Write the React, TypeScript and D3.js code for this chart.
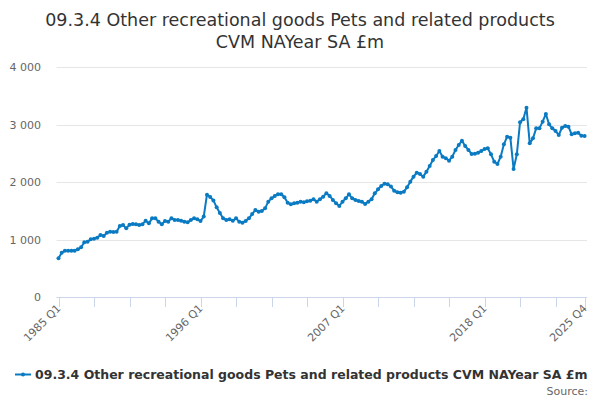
import * as d3 from 'd3';
import { useEffect, useRef } from 'react';

const titleLines = [
  '09.3.4 Other recreational goods Pets and related products',
  'CVM NAYear SA £m',
];
const seriesName = '09.3.4 Other recreational goods Pets and related products CVM NAYear SA £m';

const startYear = 1985;
const endYear = 2025;

// quarterly values, 1985 Q1 .. 2025 Q4
const values = [
  673, 771, 806, 806, 806, 806, 829, 864, 951, 962, 1003, 1014, 1032, 1078, 1061, 1119,
  1136, 1130, 1136, 1235, 1252, 1194, 1258, 1270, 1264, 1252, 1264, 1327, 1281, 1368, 1368, 1310,
  1264, 1322, 1310, 1368, 1339, 1339, 1327, 1310, 1299, 1339, 1368, 1351, 1320, 1400, 1780, 1740,
  1680, 1560, 1460, 1368, 1339, 1351, 1327, 1368, 1310, 1293, 1322, 1368, 1443, 1513, 1484, 1496,
  1542, 1658, 1716, 1757, 1786, 1786, 1734, 1640, 1612, 1629, 1640, 1658, 1650, 1665, 1675, 1699,
  1658, 1699, 1745, 1803, 1757, 1687, 1629, 1583, 1658, 1716, 1786, 1716, 1687, 1670, 1658, 1617,
  1658, 1699, 1803, 1873, 1930, 1970, 1960, 1920, 1850, 1820, 1814, 1832, 1907, 2006, 2093, 2162,
  2139, 2093, 2180, 2278, 2383, 2452, 2539, 2441, 2412, 2371, 2441, 2557, 2643, 2719, 2626, 2557,
  2487, 2490, 2510, 2539, 2574, 2585, 2481, 2354, 2313, 2441, 2655, 2788, 2771, 2226, 2481, 3038,
  3090, 3293, 2672, 2759, 2933, 2933, 3049, 3183, 3003, 2933, 2887, 2817, 2945, 2974, 2962, 2829,
  2846, 2858, 2805, 2800,
];

const quarters: string[] = [];
for (let y = startYear; y <= endYear; y++) {
  for (let q = 1; q <= 4; q++) quarters.push(`${y} Q${q}`);
}

const yTicks = [0, 1000, 2000, 3000, 4000];
const tickStep = 11;
const labelEvery = 4;

export default function App() {
  const ref = useRef<SVGSVGElement | null>(null);

  useEffect(() => {
    if (!ref.current) return;
    const width = 600;
    const height = 400;
    const left = 58.5;
    const right = 584.6;
    const top = 67;
    const bottom = 297;
    const font = '"DejaVu Sans", sans-serif';
    const color = '#0a7ac2';

    const svg = d3.select(ref.current).attr('viewBox', `0 0 ${width} ${height}`);
    svg.selectAll('*').remove();

    const x = d3.scaleLinear().domain([0, quarters.length - 1]).range([left, right]);
    const y = d3.scaleLinear().domain([0, 4000]).range([bottom, top]);

    /* title */
    svg
      .append('text')
      .attr('x', 300)
      .attr('text-anchor', 'middle')
      .attr('font-family', font)
      .attr('font-size', 17.5)
      .attr('fill', '#333')
      .selectAll('tspan')
      .data(titleLines)
      .enter()
      .append('tspan')
      .attr('x', 300)
      .attr('y', (_d, i) => 26 + i * 22)
      .text((d) => d);

    /* grid + y labels */
    const gy = svg.append('g');
    gy.selectAll('line')
      .data(yTicks.filter((t) => t > 0))
      .enter()
      .append('line')
      .attr('x1', left - 2)
      .attr('x2', 587)
      .attr('y1', (d) => Math.round(y(d)) + 0.5)
      .attr('y2', (d) => Math.round(y(d)) + 0.5)
      .attr('stroke', '#e6e6e6');
    gy.selectAll('text')
      .data(yTicks)
      .enter()
      .append('text')
      .attr('x', 41)
      .attr('y', (d) => y(d) + 4)
      .attr('text-anchor', 'end')
      .attr('font-family', font)
      .attr('font-size', 11)
      .attr('fill', '#666')
      .text((d) => d3.format(',')(d).replace(/,/g, ' '));

    /* x axis */
    const tickIdx: number[] = [];
    for (let i = 0; i < quarters.length; i += tickStep) tickIdx.push(i);
    if (tickIdx[tickIdx.length - 1] !== quarters.length - 1) tickIdx.push(quarters.length - 1);

    const gx = svg.append('g');
    gx.append('line')
      .attr('x1', left - 2)
      .attr('x2', 587)
      .attr('y1', bottom + 0.5)
      .attr('y2', bottom + 0.5)
      .attr('stroke', '#ccd6eb');
    gx.selectAll('line.tick')
      .data(tickIdx)
      .enter()
      .append('line')
      .attr('class', 'tick')
      .attr('x1', (d) => Math.round(x(d)) + 0.5)
      .attr('x2', (d) => Math.round(x(d)) + 0.5)
      .attr('y1', bottom)
      .attr('y2', bottom + 10)
      .attr('stroke', '#ccd6eb');
    const labelIdx = tickIdx.filter((_d, i) => i % labelEvery === 0 || i === tickIdx.length - 1);
    gx.selectAll('text')
      .data(labelIdx)
      .enter()
      .append('text')
      .attr('transform', (d) => `translate(${x(d) + 3},${bottom + 12}) rotate(-45)`)
      .attr('text-anchor', 'end')
      .attr('font-family', font)
      .attr('font-size', 11)
      .attr('fill', '#666')
      .text((d) => quarters[d]);

    /* series */
    const line = d3
      .line<number>()
      .x((_d, i) => x(i))
      .y((d) => y(d));
    svg
      .append('path')
      .datum(values)
      .attr('d', line)
      .attr('fill', 'none')
      .attr('stroke', color)
      .attr('stroke-width', 2)
      .attr('stroke-linejoin', 'round');
    svg
      .append('g')
      .selectAll('circle')
      .data(values)
      .enter()
      .append('circle')
      .attr('cx', (_d, i) => x(i))
      .attr('cy', (d) => y(d))
      .attr('r', 2)
      .attr('fill', color);

    /* legend */
    const lg = svg.append('g');
    lg.append('line')
      .attr('x1', 15)
      .attr('x2', 31)
      .attr('y1', 374.5)
      .attr('y2', 374.5)
      .attr('stroke', color)
      .attr('stroke-width', 2);
    lg.append('circle').attr('cx', 23).attr('cy', 374.5).attr('r', 2).attr('fill', color);
    lg.append('text')
      .attr('x', 35)
      .attr('y', 379)
      .attr('font-family', font)
      .attr('font-size', 12.5)
      .attr('font-weight', 'bold')
      .attr('fill', '#333')
      .text(seriesName);

    svg
      .append('text')
      .attr('x', 588)
      .attr('y', 395)
      .attr('text-anchor', 'end')
      .attr('font-family', font)
      .attr('font-size', 11)
      .attr('fill', '#666')
      .text('Source:');
  }, []);

  return (
    <svg
      ref={ref}
      width={600}
      height={400}
      style={{ position: 'absolute', left: 0, top: 0, background: '#fff' }}
    />
  );
}
